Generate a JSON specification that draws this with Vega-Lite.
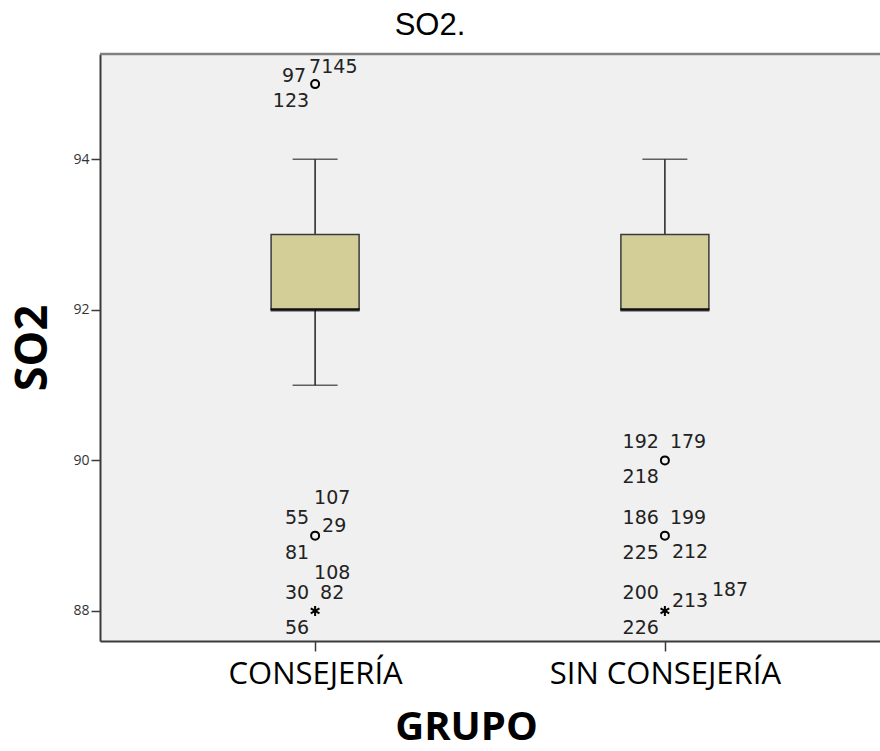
{
  "$schema": "https://vega.github.io/schema/vega-lite/v6.json",
  "autosize": {"type": "none"},
  "width": 780,
  "height": 587,
  "padding": {"left": 100, "top": 54, "right": 0, "bottom": 110},
  "background": "white",
  "title": {
    "text": "SO2.",
    "font": "Liberation Sans",
    "fontSize": 31,
    "fontWeight": "normal",
    "color": "#000000",
    "anchor": "middle",
    "frame": "group",
    "dx": -60,
    "dy": 32,
    "baseline": "alphabetic",
    "offset": 19
  },
  "config": {
    "view": {"fill": "#f0f0f0", "stroke": null},
    "axisX": {
      "grid": false,
      "domainColor": "#3a3a3a",
      "domainWidth": 2,
      "tickColor": "#3a3a3a",
      "tickWidth": 1.5,
      "tickSize": 10,
      "labelFont": "Open Sans",
      "labelFontSize": 31,
      "labelColor": "#000000",
      "labelPadding": 8,
      "labelAngle": 0,
      "labelLimit": 0,
      "titleFont": "Open Sans",
      "titleFontSize": 40,
      "titleFontWeight": "bold",
      "titleColor": "#000000",
      "titleBaseline": "alphabetic",
      "titleAlign": "center",
      "titleX": 366,
      "titleY": 98
    },
    "axisY": {
      "grid": false,
      "domainColor": "#3a3a3a",
      "domainWidth": 2,
      "tickColor": "#3a3a3a",
      "tickWidth": 1.5,
      "tickSize": 9,
      "labelFont": "Open Sans",
      "labelFontSize": 14,
      "labelColor": "#333333",
      "labelPadding": 2,
      "titleFont": "Open Sans",
      "titleFontSize": 45,
      "titleFontWeight": "bold",
      "titleColor": "#000000",
      "titleAngle": -90,
      "titleAlign": "center",
      "titleBaseline": "middle",
      "titleX": -68,
      "titleY": 293.5
    }
  },
  "datasets": {
    "cajas": [
      {"grupo": "CONSEJERÍA", "minimo": 91, "q1": 92, "mediana": 92, "q3": 93, "maximo": 94},
      {"grupo": "SIN CONSEJERÍA", "minimo": 92, "q1": 92, "mediana": 92, "q3": 93, "maximo": 94}
    ],
    "atipicos": [
      {"grupo": "CONSEJERÍA", "so2": 95, "tipo": "atípico"},
      {"grupo": "CONSEJERÍA", "so2": 89, "tipo": "atípico"},
      {"grupo": "CONSEJERÍA", "so2": 88, "tipo": "extremo"},
      {"grupo": "SIN CONSEJERÍA", "so2": 90, "tipo": "atípico"},
      {"grupo": "SIN CONSEJERÍA", "so2": 89, "tipo": "atípico"},
      {"grupo": "SIN CONSEJERÍA", "so2": 88, "tipo": "extremo"}
    ],
    "casos": [
      {"grupo": "CONSEJERÍA", "so2": 95, "caso": "97", "pos": "O"},
      {"grupo": "CONSEJERÍA", "so2": 95, "caso": "7145", "pos": "N2"},
      {"grupo": "CONSEJERÍA", "so2": 95, "caso": "123", "pos": "SO"},
      {"grupo": "CONSEJERÍA", "so2": 89, "caso": "107", "pos": "N"},
      {"grupo": "CONSEJERÍA", "so2": 89, "caso": "55", "pos": "NO"},
      {"grupo": "CONSEJERÍA", "so2": 89, "caso": "29", "pos": "E"},
      {"grupo": "CONSEJERÍA", "so2": 89, "caso": "81", "pos": "SO"},
      {"grupo": "CONSEJERÍA", "so2": 88, "caso": "108", "pos": "N"},
      {"grupo": "CONSEJERÍA", "so2": 88, "caso": "30", "pos": "NO"},
      {"grupo": "CONSEJERÍA", "so2": 88, "caso": "82", "pos": "NE"},
      {"grupo": "CONSEJERÍA", "so2": 88, "caso": "56", "pos": "SO"},
      {"grupo": "SIN CONSEJERÍA", "so2": 90, "caso": "192", "pos": "NO"},
      {"grupo": "SIN CONSEJERÍA", "so2": 90, "caso": "179", "pos": "NE"},
      {"grupo": "SIN CONSEJERÍA", "so2": 90, "caso": "218", "pos": "SO"},
      {"grupo": "SIN CONSEJERÍA", "so2": 89, "caso": "186", "pos": "NO"},
      {"grupo": "SIN CONSEJERÍA", "so2": 89, "caso": "199", "pos": "NE"},
      {"grupo": "SIN CONSEJERÍA", "so2": 89, "caso": "225", "pos": "SO"},
      {"grupo": "SIN CONSEJERÍA", "so2": 89, "caso": "212", "pos": "SE"},
      {"grupo": "SIN CONSEJERÍA", "so2": 88, "caso": "200", "pos": "NO"},
      {"grupo": "SIN CONSEJERÍA", "so2": 88, "caso": "213", "pos": "E"},
      {"grupo": "SIN CONSEJERÍA", "so2": 88, "caso": "187", "pos": "E2"},
      {"grupo": "SIN CONSEJERÍA", "so2": 88, "caso": "226", "pos": "SO"}
    ]
  },
  "layer": [
    {
      "data": {"values": [{}]},
      "mark": {"type": "rule", "color": "#808080", "strokeWidth": 2.5},
      "encoding": {"y": {"datum": 95.4, "type": "quantitative", "scale": {"domain": [87.6, 95.4], "nice": false, "zero": false}, "title": "SO2"}}
    },
    {
      "data": {"name": "cajas"},
      "mark": {"type": "rule", "color": "#222222", "strokeWidth": 1.5},
      "encoding": {
        "x": {"field": "grupo", "type": "nominal", "title": "GRUPO", "scale": {"type": "point", "domain": ["CONSEJERÍA", "SIN CONSEJERÍA"], "padding": 0.615}},
        "y": {"field": "minimo", "type": "quantitative", "title": "SO2", "scale": {"domain": [87.6, 95.4], "nice": false, "zero": false}, "axis": {"values": [88, 90, 92, 94], "format": "d"}},
        "y2": {"field": "maximo"}
      }
    },
    {
      "data": {"name": "cajas"},
      "mark": {"type": "tick", "orient": "horizontal", "color": "#222222", "size": 45, "thickness": 1.5},
      "encoding": {
        "x": {"field": "grupo", "type": "nominal", "title": "GRUPO"},
        "y": {"field": "maximo", "type": "quantitative", "title": "SO2"}
      }
    },
    {
      "data": {"name": "cajas"},
      "transform": [{"filter": "datum.minimo < datum.q1"}],
      "mark": {"type": "tick", "orient": "horizontal", "color": "#222222", "size": 45, "thickness": 1.5},
      "encoding": {
        "x": {"field": "grupo", "type": "nominal", "title": "GRUPO"},
        "y": {"field": "minimo", "type": "quantitative", "title": "SO2"}
      }
    },
    {
      "data": {"name": "cajas"},
      "mark": {"type": "bar", "fill": "#d3ce97", "stroke": "#3a3a3a", "strokeWidth": 1.5, "size": 88},
      "encoding": {
        "x": {"field": "grupo", "type": "nominal", "title": "GRUPO"},
        "y": {"field": "q1", "type": "quantitative", "title": "SO2"},
        "y2": {"field": "q3"}
      }
    },
    {
      "data": {"name": "cajas"},
      "mark": {"type": "tick", "orient": "horizontal", "color": "#000000", "size": 89, "thickness": 3.5},
      "encoding": {
        "x": {"field": "grupo", "type": "nominal", "title": "GRUPO"},
        "y": {"field": "mediana", "type": "quantitative", "title": "SO2"}
      }
    },
    {
      "data": {"name": "atipicos"},
      "transform": [{"filter": "datum.tipo === 'atípico'"}],
      "mark": {"type": "point", "shape": "circle", "filled": false, "stroke": "#000000", "strokeWidth": 2, "size": 64, "opacity": 1},
      "encoding": {
        "x": {"field": "grupo", "type": "nominal", "title": "GRUPO"},
        "y": {"field": "so2", "type": "quantitative", "title": "SO2"}
      }
    },
    {
      "data": {"name": "atipicos"},
      "transform": [{"filter": "datum.tipo === 'extremo'"}],
      "mark": {"type": "point", "shape": "M0,-1L0,1M-0.87,-0.5L0.87,0.5M-0.87,0.5L0.87,-0.5", "filled": false, "stroke": "#000000", "strokeWidth": 2, "size": 100, "opacity": 1},
      "encoding": {
        "x": {"field": "grupo", "type": "nominal", "title": "GRUPO"},
        "y": {"field": "so2", "type": "quantitative", "title": "SO2"}
      }
    },
    {
      "data": {"name": "casos"},
      "transform": [{"filter": "datum.pos === 'NO'"}],
      "mark": {"type": "text", "font": "DejaVu Sans", "fontSize": 19, "color": "#222222", "align": "right", "baseline": "middle", "dx": -6, "dy": -18},
      "encoding": {"x": {"field": "grupo", "type": "nominal", "title": "GRUPO"}, "y": {"field": "so2", "type": "quantitative", "title": "SO2"}, "text": {"field": "caso"}}
    },
    {
      "data": {"name": "casos"},
      "transform": [{"filter": "datum.pos === 'SO'"}],
      "mark": {"type": "text", "font": "DejaVu Sans", "fontSize": 19, "color": "#222222", "align": "right", "baseline": "middle", "dx": -6, "dy": 17},
      "encoding": {"x": {"field": "grupo", "type": "nominal", "title": "GRUPO"}, "y": {"field": "so2", "type": "quantitative", "title": "SO2"}, "text": {"field": "caso"}}
    },
    {
      "data": {"name": "casos"},
      "transform": [{"filter": "datum.pos === 'NE'"}],
      "mark": {"type": "text", "font": "DejaVu Sans", "fontSize": 19, "color": "#222222", "align": "left", "baseline": "middle", "dx": 5, "dy": -18},
      "encoding": {"x": {"field": "grupo", "type": "nominal", "title": "GRUPO"}, "y": {"field": "so2", "type": "quantitative", "title": "SO2"}, "text": {"field": "caso"}}
    },
    {
      "data": {"name": "casos"},
      "transform": [{"filter": "datum.pos === 'E'"}],
      "mark": {"type": "text", "font": "DejaVu Sans", "fontSize": 19, "color": "#222222", "align": "left", "baseline": "middle", "dx": 7, "dy": -10},
      "encoding": {"x": {"field": "grupo", "type": "nominal", "title": "GRUPO"}, "y": {"field": "so2", "type": "quantitative", "title": "SO2"}, "text": {"field": "caso"}}
    },
    {
      "data": {"name": "casos"},
      "transform": [{"filter": "datum.pos === 'SE'"}],
      "mark": {"type": "text", "font": "DejaVu Sans", "fontSize": 19, "color": "#222222", "align": "left", "baseline": "middle", "dx": 7, "dy": 16},
      "encoding": {"x": {"field": "grupo", "type": "nominal", "title": "GRUPO"}, "y": {"field": "so2", "type": "quantitative", "title": "SO2"}, "text": {"field": "caso"}}
    },
    {
      "data": {"name": "casos"},
      "transform": [{"filter": "datum.pos === 'N'"}],
      "mark": {"type": "text", "font": "DejaVu Sans", "fontSize": 19, "color": "#222222", "align": "left", "baseline": "middle", "dx": -1, "dy": -38},
      "encoding": {"x": {"field": "grupo", "type": "nominal", "title": "GRUPO"}, "y": {"field": "so2", "type": "quantitative", "title": "SO2"}, "text": {"field": "caso"}}
    },
    {
      "data": {"name": "casos"},
      "transform": [{"filter": "datum.pos === 'O'"}],
      "mark": {"type": "text", "font": "DejaVu Sans", "fontSize": 19, "color": "#222222", "align": "right", "baseline": "middle", "dx": -9, "dy": -8},
      "encoding": {"x": {"field": "grupo", "type": "nominal", "title": "GRUPO"}, "y": {"field": "so2", "type": "quantitative", "title": "SO2"}, "text": {"field": "caso"}}
    },
    {
      "data": {"name": "casos"},
      "transform": [{"filter": "datum.pos === 'N2'"}],
      "mark": {"type": "text", "font": "DejaVu Sans", "fontSize": 19, "color": "#222222", "align": "left", "baseline": "middle", "dx": -6, "dy": -17},
      "encoding": {"x": {"field": "grupo", "type": "nominal", "title": "GRUPO"}, "y": {"field": "so2", "type": "quantitative", "title": "SO2"}, "text": {"field": "caso"}}
    },
    {
      "data": {"name": "casos"},
      "transform": [{"filter": "datum.pos === 'E2'"}],
      "mark": {"type": "text", "font": "DejaVu Sans", "fontSize": 19, "color": "#222222", "align": "left", "baseline": "middle", "dx": 47, "dy": -21},
      "encoding": {"x": {"field": "grupo", "type": "nominal", "title": "GRUPO"}, "y": {"field": "so2", "type": "quantitative", "title": "SO2"}, "text": {"field": "caso"}}
    }
  ]
}
